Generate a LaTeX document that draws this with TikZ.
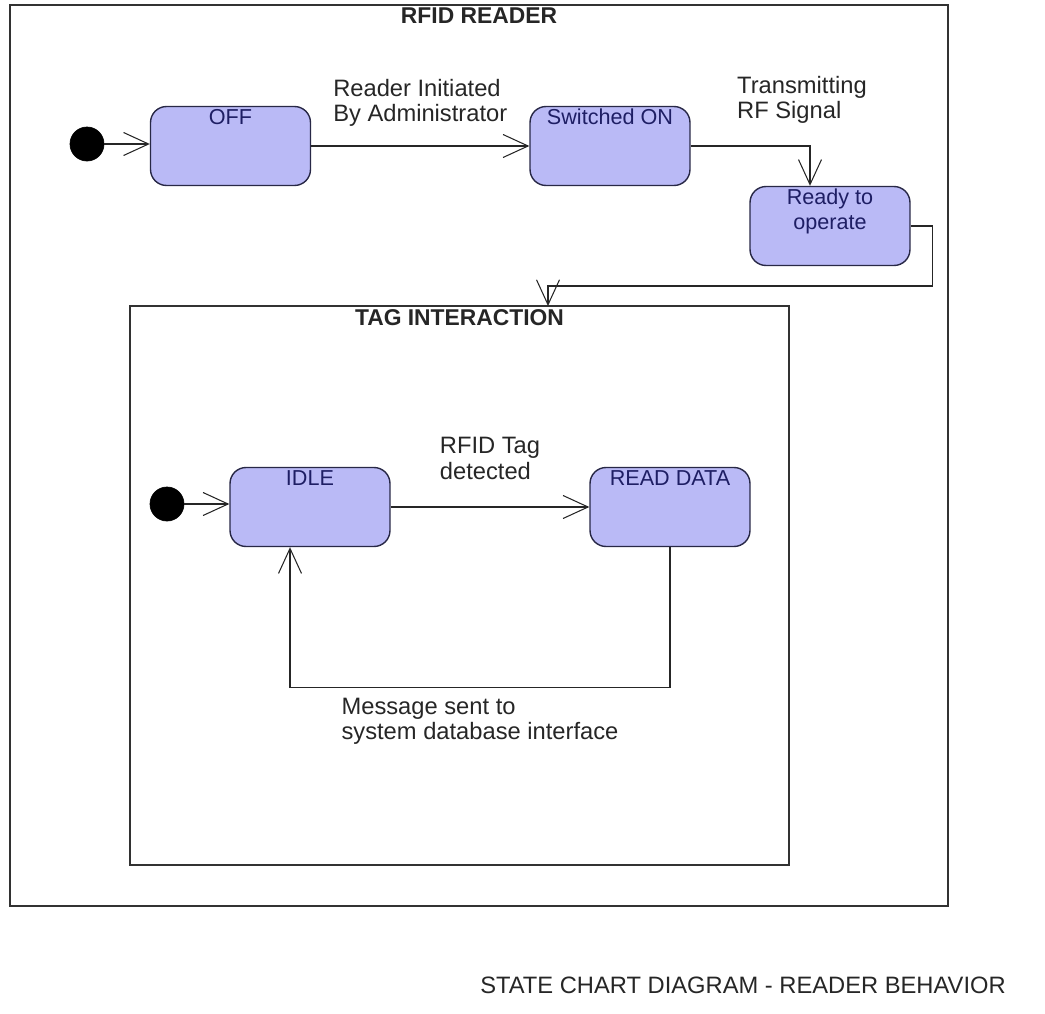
\documentclass[tikz,border=0pt]{standalone}
\usepackage{fontspec}
\setmainfont{Liberation Sans}
\usetikzlibrary{arrows.meta}
\definecolor{statefill}{RGB}{186,186,246}
\definecolor{stateline}{RGB}{40,40,70}
\definecolor{statetext}{RGB}{30,30,100}
\definecolor{framegray}{RGB}{50,50,50}
\begin{document}
\begin{tikzpicture}[x=0.02cm, y=-0.02cm,
            every node/.style = {font=\fontsize{13.5}{14.5}\selectfont, text=black!85},
            state/.style = {draw=stateline, fill=statefill, rectangle, rounded corners=0.32cm, line width=0.8pt, minimum width=3.2cm, minimum height=1.58cm},
            statename/.style = {anchor=north, inner sep=0pt, yshift=-0.06cm, align=center, text=statetext, font=\fontsize{12.3}{14}\selectfont},
            initial/.style = {circle, fill=black, draw=black, minimum size=0.68cm, inner sep=0pt},
            frame/.style = {draw=framegray, line width=0.8pt, rectangle, inner sep=0pt},
            frametitle/.style = {anchor=north, inner sep=0pt, yshift=-0.07cm, font=\fontsize{13}{14}\selectfont\bfseries},
            trans/.style = {draw=black!85, line width=0.6pt, -{Straight Barb[length=0.5cm, width=0.46cm]}},
            transname/.style = {align=left, inner sep=0pt}]
            \useasboundingbox (0,0) rectangle (1045,1014);
            \node[frame, minimum width=18.76cm, minimum height=18.02cm, label={[frametitle]north:RFID READER}] (reader) at (479,455.5) {};
            \node[frame, minimum width=13.18cm, minimum height=11.18cm, label={[frametitle]north:TAG INTERACTION}] (tag) at (459.5,585.5) {};
            \node[initial] (start) at (87,144) {};
            \node[state, label={[statename]north:OFF}] (off) at (230.5,146) {};
            \node[state, label={[statename]north:Switched ON}] (on) at (610,146) {};
            \node[state, label={[statename]north:{Ready to\\operate}}] (ready) at (830,226) {};
            \coordinate (tagentry) at (548,306);
            \node[initial] (tagstart) at (167,504) {};
            \node[state, label={[statename]north:IDLE}] (idle) at (310,507) {};
            \node[state, label={[statename]north:READ DATA}] (readdata) at (670,507) {};
            \node (caption) at (743,985) {STATE CHART DIAGRAM - READER BEHAVIOR};
            \draw[trans] (start) -- (start -| off.west);
            \draw[trans] (off) -- node[transname, above=0.38cm] {Reader Initiated\\By Administrator} (on);
            \draw[trans] (on) -| node[pos=0.5, transname, above=0.44cm, xshift=-0.16cm] {Transmitting\\RF Signal} ([xshift=-0.4cm]ready.north);
            \draw[trans] (ready.east) -| ++(22,60) -| (tagentry);
            \draw[trans] (tagstart) -- (tagstart -| idle.west);
            \draw[trans] (idle) -- node[transname, above=0.54cm] {RFID Tag\\detected} (readdata);
            \draw[trans] (readdata.south) -- ++(0,140) -| node[pos=0.25, transname, below=0.2cm] {Message sent to\\system database interface} ([xshift=-0.4cm]idle.south);
        \end{tikzpicture}
\end{document}
